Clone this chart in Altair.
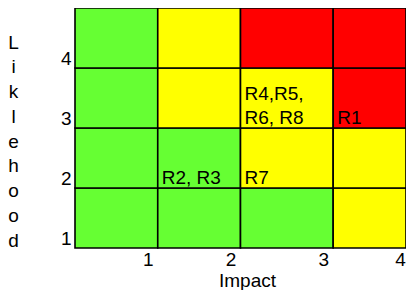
import altair as alt
import pandas as pd

# ---- data ----
impact_labels = ["1", "2", "3", "4"]
likelihood_labels = ["1", "2", "3", "4"]
impact_bounds = [0, 1, 2, 3.12, 4.0]       # column edges (unequal widths as in the reference)
likelihood_bounds = [0, 1, 2, 3, 4]        # row edges

# risk level per cell, rows = likelihood 1..4, columns = impact 1..4
risk_grid = [
    ["Low", "Low", "Low", "Medium"],
    ["Low", "Low", "Medium", "Medium"],
    ["Low", "Medium", "Medium", "High"],
    ["Low", "Medium", "High", "High"],
]
level_names = ["Low", "Medium", "High"]
level_colors = ["#66FF33", "#FFFF00", "#FF0000"]

risk_impact = [2, 3, 3, 4]
risk_likelihood = [2, 2, 3, 3]
risk_text = ["R2, R3", "R7", "R4,R5,\nR6, R8", "R1"]

FONT = "Liberation Sans"
FS = 19
LH = 24.5

rows = []
for li in range(4):
    for ii in range(4):
        rows.append({
            "x0": impact_bounds[ii], "x1": impact_bounds[ii + 1],
            "y0": likelihood_bounds[li], "y1": likelihood_bounds[li + 1],
            "level": risk_grid[li][ii],
        })
cells = pd.DataFrame(rows)

labels_df = pd.DataFrame({
    "x0": [impact_bounds[i - 1] for i in risk_impact],
    "y0": [likelihood_bounds[l - 1] for l in risk_likelihood],
    "text": risk_text,
    "nlines": [t.count("\n") + 1 for t in risk_text],
})


def label_expr(vals, labels):
    expr = "''"
    for v, l in reversed(list(zip(vals, labels))):
        expr = f"abs(datum.value - {v}) < 0.001 ? '{l}' : ({expr})"
    return expr


x_ticks = impact_bounds[1:]
y_ticks = likelihood_bounds[:-1]

x_axis = alt.Axis(
    values=x_ticks, labelExpr=label_expr(x_ticks, impact_labels),
    ticks=False, domain=False, grid=False,
    labelFont=FONT, labelFontSize=FS, labelColor="black",
    labelOffset={"condition": {"test": f"datum.value >= {impact_bounds[-1] - 0.01}", "value": -6}, "value": -10},
    labelPadding=2, labelFlush=False, labelOverlap=False,
    title="Impact", titleFont=FONT, titleFontSize=FS, titleFontWeight="normal",
    titleColor="black", titleX=172, titleY=38, titleBaseline="alphabetic",
)
y_axis = alt.Axis(
    values=y_ticks, labelExpr=label_expr(y_ticks, likelihood_labels),
    ticks=False, domain=False, grid=False,
    labelFont=FONT, labelFontSize=FS, labelColor="black",
    labelOffset=-10, labelPadding=4, labelFlush=False, labelOverlap=False,
    title=list("Liklehood"), titleFont=FONT, titleFontSize=FS,
    titleFontWeight="normal", titleColor="black", titleAngle=0,
    titleAlign="center", titleBaseline="middle", titleLineHeight=24.75,
    titleX=-62, titleY=34,
)

x_scale = alt.Scale(domain=[impact_bounds[0], impact_bounds[-1]], nice=False, zero=False)
y_scale = alt.Scale(domain=[likelihood_bounds[0], likelihood_bounds[-1]], nice=False, zero=False)

rects = alt.Chart(cells).mark_rect(stroke="black", strokeWidth=1.6).encode(
    x=alt.X("x0:Q", scale=x_scale, axis=x_axis),
    x2="x1:Q",
    y=alt.Y("y0:Q", scale=y_scale, axis=y_axis),
    y2="y1:Q",
    color=alt.Color("level:N", scale=alt.Scale(domain=level_names, range=level_colors), legend=None),
)

layers = [rects]
for n in sorted(labels_df["nlines"].unique()):
    sub = labels_df[labels_df["nlines"] == n]
    layers.append(
        alt.Chart(sub).mark_text(
            align="left", baseline="bottom", dx=4, dy=-(n - 1) * LH,
            fontSize=FS, font=FONT, color="black", lineBreak="\n", lineHeight=LH,
        ).encode(
            x=alt.X("x0:Q", scale=x_scale, axis=x_axis),
            y=alt.Y("y0:Q", scale=y_scale, axis=y_axis),
            text="text:N",
        )
    )

chart = alt.layer(*layers).properties(
    width=331, height=240,
    autosize=alt.AutoSizeParams(type="none"),
    padding={"left": 67, "top": 0, "right": 0, "bottom": 42},
).configure_view(strokeWidth=0)

chart.save("out.html", embed_options={"renderer": "svg", "actions": False})
